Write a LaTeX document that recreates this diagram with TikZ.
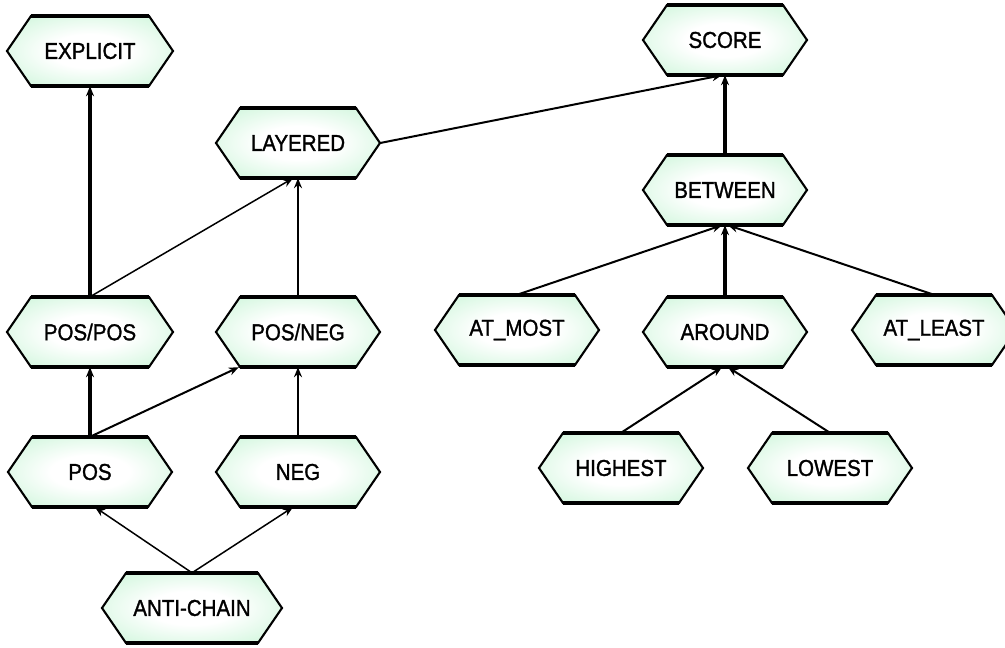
\documentclass[tikz,border=0pt]{standalone}
\usepackage{fontspec}
\usepackage{graphicx}
\setmainfont{Liberation Sans}
\newfontfamily\lblfont{Liberation Sans}[FakeBold=1.4]
\usetikzlibrary{arrows.meta}

\definecolor{mint}{RGB}{192,243,208}
\pgfdeclareradialshading{hexglow}{\pgfpointorigin}{%
  color(0bp)=(white); color(12bp)=(white); color(40bp)=(mint); color(50bp)=(mint)}

\tikzset{
  hexfill/.style={shading=hexglow},
  hexside/.style={line width=2.1pt, line join=miter},
  hexrim/.style={line width=3.6pt},
  hexlabel/.style={inner sep=0pt, minimum height=70pt,
    font=\lblfont\fontsize{20.5}{21}\selectfont},
  link/.style={-{Stealth[length=10pt,width=8pt]}, line width=2pt},
  heavy link/.style={link, line width=3.2pt},
  light link/.style={link, line width=1.5pt},
}

% hexagon with pointed left/right ends: name, x, y, half width, label
\newcommand\hexbox[5]{%
  \path[hexfill] ({#2-#4},#3) -- ({#2-#4+24},{#3-35}) -- ({#2+#4-24},{#3-35})
    -- ({#2+#4},#3) -- ({#2+#4-24},{#3+35}) -- ({#2-#4+24},{#3+35}) -- cycle;
  \draw[hexside] ({#2-#4},#3) -- ({#2-#4+24},{#3-35}) -- ({#2+#4-24},{#3-35})
    -- ({#2+#4},#3) -- ({#2+#4-24},{#3+35}) -- ({#2-#4+24},{#3+35}) -- cycle;
  \draw[hexrim] ({#2-#4+24},{#3-35}) -- ({#2+#4-24},{#3-35});
  \draw[hexrim] ({#2-#4+24},{#3+35}) -- ({#2+#4-24},{#3+35});
  \node[hexlabel, minimum width={2*#4pt}] (#1) at (#2,#3) {\scalebox{1}[1.12]{#5}};
}

\begin{document}
\begin{tikzpicture}[x=1pt, y=-1pt]
  \fill[white] (0,0) rectangle (1005,648);
  \clip (0,0) rectangle (1005,648);

  \hexbox{explicit}{90}{51}{83}{EXPLICIT}
  \hexbox{score}{725}{40}{82}{SCORE}
  \hexbox{layered}{298}{143}{82}{LAYERED}
  \hexbox{between}{725}{190}{82}{BETWEEN}
  \hexbox{pospos}{90}{332}{83}{POS/POS}
  \hexbox{posneg}{298}{332}{82}{POS/NEG}
  \hexbox{atmost}{517}{330}{82}{AT\_MOST}
  \hexbox{around}{725}{332}{82}{AROUND}
  \hexbox{atleast}{934}{330}{82}{AT\_LEAST}
  \hexbox{pos}{90}{472}{82}{POS}
  \hexbox{neg}{298}{472}{82}{NEG}
  \hexbox{highest}{621}{468}{82}{HIGHEST}
  \hexbox{lowest}{830}{468}{82}{LOWEST}
  \hexbox{antichain}{192}{608}{90}{ANTI-CHAIN}

  % left hierarchy
  \draw[heavy link] (pospos.north) -- (explicit.south);
  \draw[light link] (pospos.north) -- ([xshift=-5pt]layered.south);
  \draw[link] (posneg.north) -- (layered.south);
  \draw[heavy link] (pos.north) -- (pospos.south);
  \draw[link] (pos.north) -- ([xshift=23pt]posneg.south west);
  \draw[link] (neg.north) -- (posneg.south);
  \draw[light link] (antichain.north) -- ([xshift=5pt]pos.south);
  \draw[light link] (antichain.north) -- ([xshift=-5pt]neg.south);

  % right hierarchy
  \draw[link] (layered.east) -- ([xshift=-3pt]score.south);
  \draw[heavy link] (between.north) -- (score.south);
  \draw[link] (atmost.north) -- ([xshift=-3pt]between.south);
  \draw[heavy link] (around.north) -- (between.south);
  \draw[link] (atleast.north) -- ([xshift=3pt]between.south);
  \draw[link] (highest.north) -- ([xshift=-3pt]around.south);
  \draw[link] (lowest.north) -- ([xshift=3pt]around.south);
\end{tikzpicture}
\end{document}
